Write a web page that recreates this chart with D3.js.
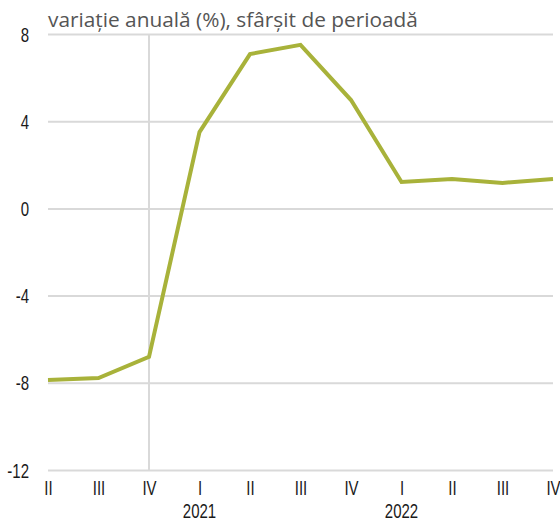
<!DOCTYPE html>
<html>
<head>
<meta charset="utf-8">
<script src="https://cdn.jsdelivr.net/npm/d3@7"></script>
<style>
  html, body { margin: 0; padding: 0; background: #fff; }
  svg { display: block; }
</style>
</head>
<body>
<svg id="chart" width="560" height="522"></svg>
<script>
// Quarterly labels and the year each quarter belongs to
const quarters = ["II", "III", "IV", "I", "II", "III", "IV", "I", "II", "III", "IV"];
const years = ["2020", "2020", "2020", "2021", "2021", "2021", "2021", "2022", "2022", "2022", "2022"];
// Annual change, end of period (%)
const values = [-7.87, -7.78, -6.81, 3.50, 7.08, 7.50, 4.97, 1.21, 1.35, 1.17, 1.35];
const yTicks = [8, 4, 0, -4, -8, -12];
const yearLabels = ["2021", "2022"];
const titleText = "variație anuală (%), sfârșit de perioadă";

const svg = d3.select("#chart");
const margin = { left: 48, right: 7, top: 34, bottom: 52 };
const W = 560, H = 522;

const idx = d3.range(quarters.length);
const x = d3.scalePoint().domain(idx).range([margin.left, W - margin.right]);
const y = d3.scaleLinear().domain([-12, 8]).range([H - margin.bottom, margin.top]);

// condensed look for the axis labels: horizontal squeeze of a regular sans face
const squeeze = 0.75;
function condensed(sel, xPos) {
  sel.style("font-family", "'Liberation Sans', Arial, sans-serif")
    .style("font-size", "20px")
    .attr("fill", "#1a1a1a")
    .attr("transform", `scale(${squeeze},1)`)
    .attr("x", xPos);
}

// horizontal gridlines with value labels (hyphen used as minus sign)
const yAxis = d3.axisLeft(y).tickValues(yTicks)
  .tickSize(-(W - margin.left - margin.right)).tickPadding(18)
  .tickFormat(d => String(d));
const gy = svg.append("g").attr("transform", `translate(${margin.left},0)`).call(yAxis);
gy.select(".domain").remove();
gy.selectAll(".tick line").attr("stroke", "#d9d9d9").attr("stroke-width", 2);
gy.selectAll(".tick text").attr("text-anchor", "end").attr("dy", "0.35em").call(condensed, -19 / squeeze);

// vertical separator at the last quarter of 2020
const sepIndex = years.lastIndexOf("2020");
svg.append("line")
  .attr("x1", x(sepIndex)).attr("x2", x(sepIndex))
  .attr("y1", y(8)).attr("y2", y(-12))
  .attr("stroke", "#d9d9d9").attr("stroke-width", 2);

// quarter labels
const xAxis = d3.axisBottom(x).tickSize(0).tickPadding(11).tickFormat(i => quarters[i]);
const gx = svg.append("g").attr("transform", `translate(0,${y(-12)})`).call(xAxis);
gx.select(".domain").remove();
gx.selectAll(".tick text").call(condensed, 0);

// year labels under the first quarter of each year
svg.append("g").selectAll("text")
  .data(yearLabels)
  .join("text")
  .attr("y", 518)
  .attr("text-anchor", "middle")
  .text(d => d)
  .each(function (d) { d3.select(this).call(condensed, x(years.indexOf(d)) / squeeze); });

// series line
const line = d3.line().x((d, i) => x(i)).y(d => y(d));
svg.append("path")
  .datum(values)
  .attr("d", line)
  .attr("fill", "none")
  .attr("stroke", "#a8b23a")
  .attr("stroke-width", 4)
  .attr("stroke-linejoin", "miter");

// unit caption
const title = svg.append("text")
  .attr("x", 48)
  .attr("y", 27)
  .attr("fill", "#555555")
  .style("font-family", "'Open Sans', 'Noto Sans', sans-serif")
  .style("font-size", "17px")
  .text(titleText);
const tw = title.node().getComputedTextLength();
title.style("font-size", (17 * 370 / tw).toFixed(2) + "px");
</script>
</body>
</html>
